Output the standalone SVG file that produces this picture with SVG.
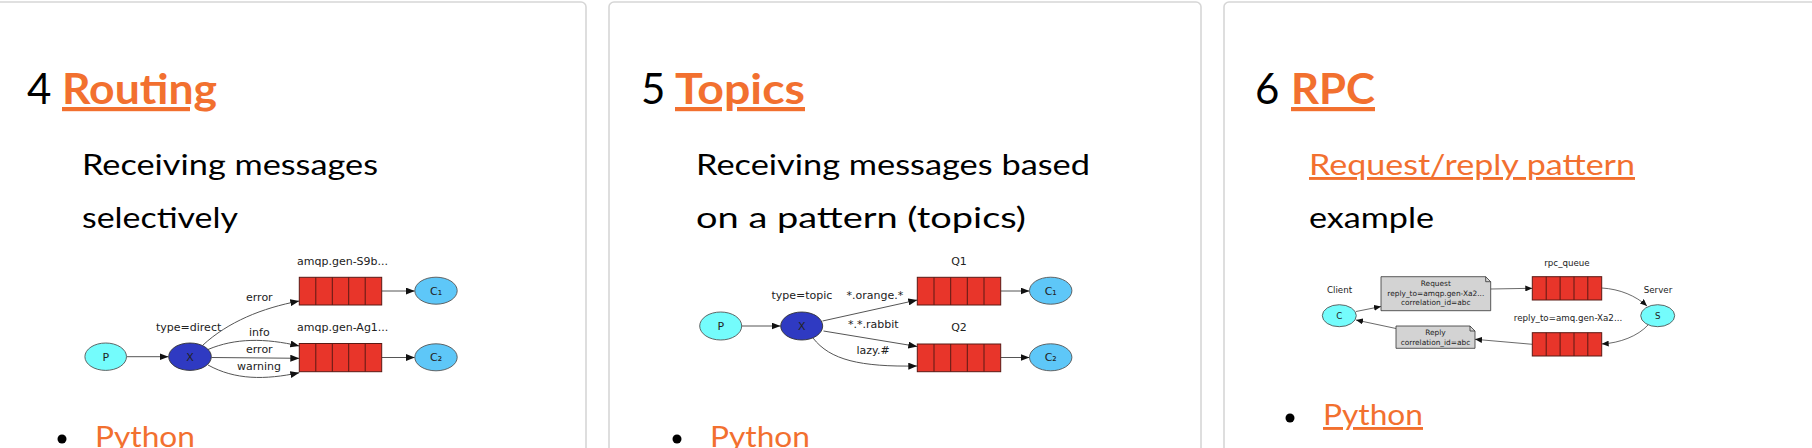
<svg xmlns="http://www.w3.org/2000/svg" width="1812" height="448" viewBox="0 0 1812 448">
<style>
.card{fill:#fff;stroke:#d6d6d6;stroke-width:1.6}
.num{font-family:Lato,"Open Sans",sans-serif;font-size:42px;fill:#000}
.head{font-family:Lato,"Open Sans",sans-serif;font-size:42px;font-weight:bold;fill:#f2702f;text-decoration:underline}
.body{font-family:Lato,"Open Sans",sans-serif;font-size:29px;fill:#000}
.link{font-family:Lato,"Open Sans",sans-serif;font-size:29px;fill:#f2702f}
.ul{text-decoration:underline}
.bul{fill:#000}
.lbl{font-family:"DejaVu Sans",sans-serif;font-size:11px;fill:#222}
.lbl3{font-family:"DejaVu Sans",sans-serif;font-size:8.7px;fill:#222}
.note{font-family:"DejaVu Sans",sans-serif;font-size:7.4px;fill:#222;text-anchor:middle}
.mid{text-anchor:middle}
.pnode{fill:#74fcfc;stroke:#555;stroke-width:0.9}
.xnode{fill:#2f3ac2;stroke:#333;stroke-width:0.9}
.cnode{fill:#5ec7f8;stroke:#555;stroke-width:0.9}
.q{fill:#e8352a;stroke:#5a1a14;stroke-width:1}
.qd{stroke:#5a1a14;stroke-width:1}
.nbox{fill:#d3d3d3;stroke:#333;stroke-width:0.8}
.e{fill:none;stroke:#555;stroke-width:1}
.ea{fill:none;stroke:#555;stroke-width:1;marker-end:url(#ah)}
.eb{fill:none;stroke:#444;stroke-width:0.8;marker-end:url(#ah2)}
</style>
<defs>
<marker id="ah" markerUnits="userSpaceOnUse" markerWidth="9" markerHeight="7" refX="9" refY="3.5" orient="auto"><path d="M0,0 L9,3.5 L0,7 z" fill="#111"/></marker>
<marker id="ah2" markerUnits="userSpaceOnUse" markerWidth="7" markerHeight="6" refX="7" refY="3" orient="auto"><path d="M0,0 L7,3 L0,6 z" fill="#111"/></marker>
</defs>

<g id="cards">
<rect class="card" x="-6" y="2" width="592" height="470" rx="5"/>
<rect class="card" x="609" y="2" width="592" height="470" rx="5"/>
<rect class="card" x="1224" y="2" width="592" height="470" rx="5"/>
</g>

<g id="card-routing-text">
<text class="num" x="27" y="104">4</text>
<text class="head" x="62" y="104" textLength="155" lengthAdjust="spacingAndGlyphs">Routing</text>
<text class="body" x="82" y="175" textLength="296" lengthAdjust="spacingAndGlyphs">Receiving messages</text>
<text class="body" x="82" y="228" textLength="156" lengthAdjust="spacingAndGlyphs">selectively</text>
<circle class="bul" cx="62" cy="439" r="4.5"/>
<text class="link" x="95" y="447" textLength="100" lengthAdjust="spacingAndGlyphs">Python</text>
</g>

<g id="card-topics-text">
<text class="num" x="641" y="104">5</text>
<text class="head" x="675" y="104" textLength="130" lengthAdjust="spacingAndGlyphs">Topics</text>
<text class="body" x="696" y="175" textLength="394" lengthAdjust="spacingAndGlyphs">Receiving messages based</text>
<text class="body" x="696" y="228" textLength="330" lengthAdjust="spacingAndGlyphs">on a pattern (topics)</text>
<circle class="bul" cx="677" cy="439" r="4.5"/>
<text class="link" x="710" y="447" textLength="100" lengthAdjust="spacingAndGlyphs">Python</text>
</g>

<g id="card-rpc-text">
<text class="num" x="1255" y="104">6</text>
<text class="head" x="1291" y="104" textLength="84" lengthAdjust="spacingAndGlyphs">RPC</text>
<text class="link ul" x="1309" y="175" textLength="326" lengthAdjust="spacingAndGlyphs">Request/reply pattern</text>
<text class="body" x="1309" y="228" textLength="125" lengthAdjust="spacingAndGlyphs">example</text>
<circle class="bul" cx="1290" cy="418" r="4.5"/>
<text class="link ul" x="1323" y="425" textLength="100" lengthAdjust="spacingAndGlyphs">Python</text>
</g>

<!-- Diagram 1: Routing -->
<g id="connectors-routing">
<path class="ea" d="M126.7,356.7 L168.5,356.7"/>
<path class="ea" d="M203,345 C228,322 262,308 299.3,301"/>
<path class="ea" d="M208,349.5 C235,338 265,338 299.3,346"/>
<path class="ea" d="M211.5,357.5 L299.3,358.3"/>
<path class="ea" d="M208,365 C235,380 265,380 299.3,372.7"/>
<path class="ea" d="M381.7,291 L414.8,291"/>
<path class="ea" d="M381.7,357.5 L414.8,357.5"/>
<text class="lbl" x="246" y="301">error</text>
<text class="lbl" x="249" y="336">info</text>
<text class="lbl" x="246" y="353">error</text>
<text class="lbl" x="237" y="369.5">warning</text>
</g>
<g id="r-P"><ellipse class="pnode" cx="105.7" cy="356.7" rx="20.8" ry="13.7"/><text class="lbl mid" x="105.7" y="360.5">P</text></g>
<g id="r-X"><ellipse class="xnode" cx="190" cy="356.7" rx="21.3" ry="13.7"/><text class="lbl mid" x="190" y="360.5" fill="#111">X</text><text class="lbl" x="156" y="330.5">type=direct</text></g>
<g id="r-Q1"><rect class="q" x="299.3" y="277.3" width="82.4" height="27.7"/><path class="qd" d="M315.8,277.3V305M332.3,277.3V305M348.7,277.3V305M365.2,277.3V305"/><text class="lbl" x="297" y="265">amqp.gen-S9b...</text></g>
<g id="r-Q2"><rect class="q" x="299.3" y="343.5" width="82.4" height="28.2"/><path class="qd" d="M315.8,343.5V371.7M332.3,343.5V371.7M348.7,343.5V371.7M365.2,343.5V371.7"/><text class="lbl" x="297" y="331">amqp.gen-Ag1...</text></g>
<g id="r-C1"><ellipse class="cnode" cx="436" cy="290.7" rx="21.2" ry="13.5"/><text class="lbl mid" x="436" y="294.5">C₁</text></g>
<g id="r-C2"><ellipse class="cnode" cx="436" cy="357.3" rx="21.2" ry="13.5"/><text class="lbl mid" x="436" y="361">C₂</text></g>

<!-- Diagram 2: Topics -->
<g id="connectors-topics">
<path class="ea" d="M742,326 L780.5,326"/>
<path class="ea" d="M822.5,321 L917.3,300"/>
<path class="ea" d="M823.5,331 L917.3,346.5"/>
<path class="ea" d="M813,338 C830,360 860,367 917.3,366"/>
<path class="ea" d="M1000.7,291 L1029.5,291"/>
<path class="ea" d="M1000.7,357.5 L1029.5,357.5"/>
<text class="lbl" x="846.5" y="298.5">*.orange.*</text>
<text class="lbl" x="848" y="328">*.*.rabbit</text>
<text class="lbl" x="856.5" y="354">lazy.#</text>
</g>
<g id="t-P"><ellipse class="pnode" cx="720.7" cy="326" rx="21" ry="14"/><text class="lbl mid" x="720.7" y="330">P</text></g>
<g id="t-X"><ellipse class="xnode" cx="801.7" cy="326" rx="21" ry="14"/><text class="lbl mid" x="801.7" y="330" fill="#111">X</text><text class="lbl" x="771.5" y="298.5">type=topic</text></g>
<g id="t-Q1"><rect class="q" x="917.3" y="277.3" width="83.4" height="27.7"/><path class="qd" d="M934,277.3V305M950.7,277.3V305M967.3,277.3V305M984,277.3V305"/><text class="lbl mid" x="959" y="265">Q1</text></g>
<g id="t-Q2"><rect class="q" x="917.3" y="344" width="83.4" height="27.7"/><path class="qd" d="M934,344V371.7M950.7,344V371.7M967.3,344V371.7M984,344V371.7"/><text class="lbl mid" x="959" y="330.5">Q2</text></g>
<g id="t-C1"><ellipse class="cnode" cx="1050.7" cy="290.7" rx="21.2" ry="13.5"/><text class="lbl mid" x="1050.7" y="294.5">C₁</text></g>
<g id="t-C2"><ellipse class="cnode" cx="1050.7" cy="357.3" rx="21.2" ry="13.5"/><text class="lbl mid" x="1050.7" y="361">C₂</text></g>

<!-- Diagram 3: RPC -->
<g id="connectors-rpc">
<path class="eb" d="M1356,311.5 L1381,306.5"/>
<path class="eb" d="M1490.7,289 L1532.3,288.3"/>
<path class="eb" d="M1601.7,288 C1620,289 1636,296 1647,306"/>
<path class="eb" d="M1648,325 C1638,336 1620,343 1601.7,344"/>
<path class="eb" d="M1532.3,344.3 L1475,339.3"/>
<path class="eb" d="M1396,328.5 L1356,320"/>
</g>
<g id="rpc-client"><ellipse class="pnode" cx="1339.3" cy="315.7" rx="17" ry="11"/><text class="lbl3 mid" x="1339.3" y="319">C</text><text class="lbl3 mid" x="1339.5" y="293.3">Client</text></g>
<g id="rpc-request"><path class="nbox" d="M1381,276.7 H1485.7 L1490.7,281.7 V310.7 H1381 Z"/><path fill="none" stroke="#333" stroke-width="0.8" d="M1485.7,276.7 V281.7 H1490.7"/><text class="note" x="1435.8" y="286">Request</text><text class="note" x="1435.8" y="296">reply_to=amqp.gen-Xa2...</text><text class="note" x="1435.8" y="305">correlation_id=abc</text></g>
<g id="rpc-queue"><rect class="q" x="1532.3" y="276.7" width="69.4" height="23.3"/><path class="qd" d="M1546.2,276.7V300M1560.1,276.7V300M1574,276.7V300M1587.8,276.7V300"/><text class="lbl3 mid" x="1567" y="266">rpc_queue</text></g>
<g id="rpc-server"><ellipse class="pnode" cx="1657.7" cy="315.7" rx="17" ry="11"/><text class="lbl3 mid" x="1657.7" y="319">S</text><text class="lbl3 mid" x="1658" y="293.3">Server</text></g>
<g id="rpc-replyqueue"><rect class="q" x="1532.3" y="332.7" width="69.4" height="23.3"/><path class="qd" d="M1546.2,332.7V356M1560.1,332.7V356M1574,332.7V356M1587.8,332.7V356"/><text class="lbl3 mid" x="1568" y="321">reply_to=amq.gen-Xa2...</text></g>
<g id="rpc-reply"><path class="nbox" d="M1396,326 H1470 L1475,331 V348.3 H1396 Z"/><path fill="none" stroke="#333" stroke-width="0.8" d="M1470,326 V331 H1475"/><text class="note" x="1435.5" y="335">Reply</text><text class="note" x="1435.5" y="345">correlation_id=abc</text></g>
</svg>
